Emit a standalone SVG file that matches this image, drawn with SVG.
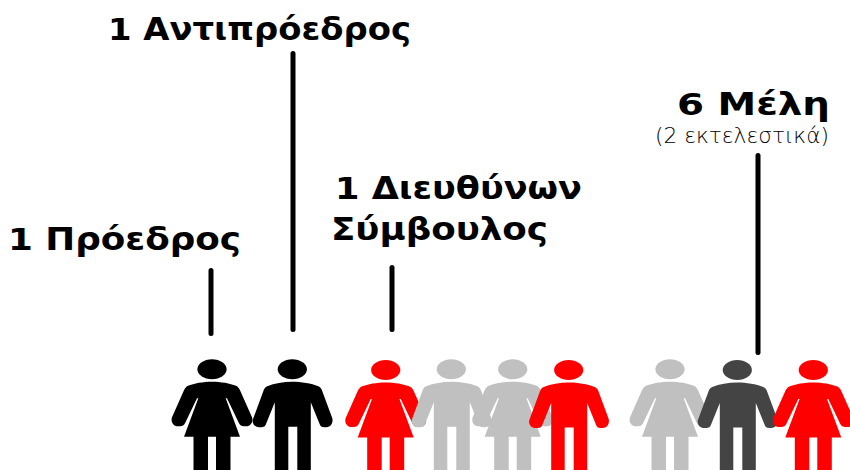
<svg xmlns="http://www.w3.org/2000/svg" xmlns:xlink="http://www.w3.org/1999/xlink" width="850" height="470" viewBox="0 0 850 470">
<style>
.h{font-family:"DejaVu Sans","Liberation Sans",sans-serif;font-weight:700;font-size:31px;fill:#000}
.s{font-family:"DejaVu Sans","Liberation Sans",sans-serif;font-weight:200;font-size:22px;fill:#000}
.c line{stroke:#000;stroke-width:5;stroke-linecap:round}
.k{fill:#000}.r{fill:#f00}.g{fill:#c0c0c0}.d{fill:#444}
</style>
<defs>
<g id="woman">
<ellipse cx="0" cy="0" rx="14.6" ry="10"/>
<path d="M0,12.400C-9,12.400-18,14-24,16.500C-26,17.500-27,19-28,21L-40,48C-41.500,52-39,57-34,57L-32,57C-29.500,57-28,56-27,54L-15,29L-13.700,29L-28,67.500L-18.500,67.500L-18.500,104L-4,104L-4,67.500L4,67.500L4,104L18.500,104L18.500,67.500L28,67.500L13.700,29L15,29L27,54C28,56,29.500,57,32,57L34,57C39,57,41.500,52,40,48L28,21C27,19,26,17.500,24,16.500C18,14,9,12.400,0,12.400Z"/>
</g>
<g id="man">
<ellipse cx="0" cy="0" rx="14.600" ry="10"/>
<path d="M0,12.400C-9,12.400-18,14-25,17C-27,18-28,19-29,22L-39,49C-41,53-38,58-33,58L-31,58C-28.500,58-27,57-26,54L-17.500,33L-17.500,104L-4,104L-4,57.500L5,57.500L5,104L18.500,104L18.500,33L27,54C28,57,29.500,58,32,58L34,58C39,58,41,53,40,49L30,22C29,19,28,18,26,17C19,14,9,12.400,0,12.400Z"/>
</g>
</defs>
<g id="connectors" class="c">
<line x1="211" y1="270.500" x2="211" y2="333.500"/>
<line x1="293" y1="53.500" x2="293" y2="329.500"/>
<line x1="392" y1="267.500" x2="392" y2="329.500"/>
<line x1="758" y1="155.500" x2="758" y2="352.500"/>
</g>
<g id="node-proedros"><text class="h" x="8" y="250" textLength="233" lengthAdjust="spacingAndGlyphs">1 Πρόεδρος</text></g>
<g id="node-antiproedros"><text class="h" x="108" y="40" textLength="303" lengthAdjust="spacingAndGlyphs">1 Αντιπρόεδρος</text></g>
<g id="node-ds"><text class="h" x="335" y="199" textLength="247" lengthAdjust="spacingAndGlyphs">1 Διευθύνων</text><text class="h" x="331" y="240" textLength="217" lengthAdjust="spacingAndGlyphs">Σύμβουλος</text></g>
<g id="node-meli"><text class="h" x="677" y="115" textLength="153" lengthAdjust="spacingAndGlyphs">6 Μέλη</text><text class="s" x="655" y="143" textLength="174" lengthAdjust="spacingAndGlyphs">(2 εκτελεστικά)</text></g>
<g id="person-1"><use xlink:href="#woman" href="#woman" class="k" x="212" y="369.300"/></g>
<g id="person-2"><use xlink:href="#man" href="#man" class="k" x="292.300" y="369.300"/></g>
<g id="person-3"><use xlink:href="#woman" href="#woman" class="r" x="385.700" y="370"/></g>
<g id="person-4"><use xlink:href="#man" href="#man" class="g" x="451.300" y="369.300"/></g>
<g id="person-5"><use xlink:href="#woman" href="#woman" class="g" x="512.700" y="369.300"/></g>
<g id="person-6"><use xlink:href="#man" href="#man" class="r" x="568.700" y="370"/></g>
<g id="person-7"><use xlink:href="#woman" href="#woman" class="g" x="670" y="369.300"/></g>
<g id="person-8"><use xlink:href="#man" href="#man" class="d" x="737.300" y="370"/></g>
<g id="person-9"><use xlink:href="#woman" href="#woman" class="r" x="813.300" y="370"/></g>
</svg>
